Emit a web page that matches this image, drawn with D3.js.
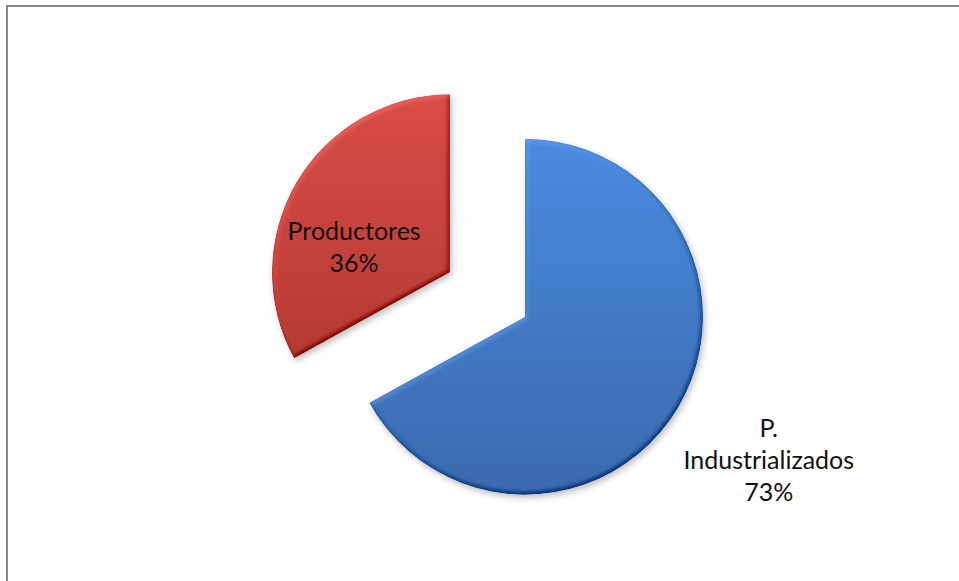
<!DOCTYPE html>
<html>
<head>
<meta charset="utf-8">
<script src="https://cdn.jsdelivr.net/npm/d3@7"></script>
<style>
    html, body { margin: 0; padding: 0; background: #fff; overflow: hidden; }
    text { font-family: Lato, "Open Sans", sans-serif; }
</style>
</head>
<body>
<div id="chart"></div>
<script>
// pie data
const categories = ['P. Industrializados', 'Productores'];
const values = [73, 36];
const labelLines = [['P.', 'Industrializados', '73%'], ['Productores', '36%']];

const WIDTH = 959;
const HEIGHT = 581;

const svg = d3.select('#chart')
    .append('svg')
    .attr('width', WIDTH)
    .attr('height', HEIGHT);

const defs = svg.append('defs');

// vertical fill gradients
const grads = [
    { id: 'g-blue', top: '#4a8ade', bottom: '#3a6aae' },
    { id: 'g-red', top: '#d94d48', bottom: '#b53933' }
];
grads.forEach(g => {
    const lg = defs.append('linearGradient')
        .attr('id', g.id)
        .attr('x1', 0).attr('y1', 0)
        .attr('x2', 0).attr('y2', 1);
    lg.append('stop').attr('offset', '0%').attr('stop-color', g.top);
    lg.append('stop').attr('offset', '100%').attr('stop-color', g.bottom);
});

// bevel + soft shadow
const elev = 55;
const f = defs.append('filter')
    .attr('id', 'bevel')
    .attr('x', '-10%').attr('y', '-10%')
    .attr('width', '120%').attr('height', '120%')
    .attr('color-interpolation-filters', 'sRGB');
f.append('feGaussianBlur').attr('in', 'SourceAlpha').attr('stdDeviation', 2.5).attr('result', 'ablur');
f.append('feDiffuseLighting')
    .attr('in', 'ablur')
    .attr('surfaceScale', 3)
    .attr('diffuseConstant', 1)
    .attr('lighting-color', '#ffffff')
    .attr('result', 'diff')
    .append('feDistantLight').attr('azimuth', 235).attr('elevation', elev);
f.append('feComposite')
    .attr('in', 'SourceGraphic').attr('in2', 'diff')
    .attr('operator', 'arithmetic')
    .attr('k1', 0).attr('k2', 1).attr('k3', 0.35).attr('k4', -0.35 * Math.sin(elev * Math.PI / 180))
    .attr('result', 'lit');
f.append('feComposite').attr('in', 'lit').attr('in2', 'SourceAlpha').attr('operator', 'in').attr('result', 'litIn');
f.append('feGaussianBlur').attr('in', 'SourceAlpha').attr('stdDeviation', 3).attr('result', 'sblur');
f.append('feOffset').attr('in', 'sblur').attr('dx', 2).attr('dy', 3).attr('result', 'soff');
f.append('feFlood').attr('flood-color', '#000').attr('flood-opacity', 0.25);
f.append('feComposite').attr('in2', 'soff').attr('operator', 'in').attr('result', 'shadow');
const merge = f.append('feMerge');
merge.append('feMergeNode').attr('in', 'shadow');
merge.append('feMergeNode').attr('in', 'litIn');

// chart border (runs off the right / bottom edges)
svg.append('rect')
    .attr('x', 7).attr('y', 6)
    .attr('width', 1000).attr('height', 1000)
    .attr('fill', 'none')
    .attr('stroke', '#878787')
    .attr('stroke-width', 2);

const cx = 487.5;
const cy = 294.5;
const radius = 178;
const explode = 0.245;

const fills = ['url(#g-blue)', 'url(#g-red)'];
// label placement: fraction of radius, angle nudge (radians)
const labelRadius = [1.59, 0.556];
const labelNudge = [0, -0.28];
const lineHeight = 32;

const pie = d3.pie().sort(null).value(d => d);
const arcs = pie(values);
const arc = d3.arc().innerRadius(0).outerRadius(radius);

const g = svg.append('g').attr('transform', `translate(${cx},${cy})`);

const slices = g.selectAll('.slice')
    .data(arcs)
    .enter()
    .append('g')
    .classed('slice', true)
    .attr('transform', d => {
        const a = (d.startAngle + d.endAngle) / 2;
        const off = explode * radius;
        return `translate(${Math.sin(a) * off},${-Math.cos(a) * off})`;
    });

slices.append('path')
    .attr('d', arc)
    .attr('fill', (d, i) => fills[i])
    .attr('filter', 'url(#bevel)');

slices.append('text')
    .attr('text-anchor', 'middle')
    .attr('font-size', 25)
    .attr('fill', '#111')
    .each(function (d, i) {
        const a = (d.startAngle + d.endAngle) / 2 + labelNudge[i];
        const r = labelRadius[i] * radius;
        const x = Math.sin(a) * r;
        const y = -Math.cos(a) * r;
        const lines = labelLines[i];
        const first = y - (lines.length - 1) * lineHeight / 2 + 8.4;
        d3.select(this).selectAll('tspan')
            .data(lines)
            .enter()
            .append('tspan')
            .attr('x', x)
            .attr('y', (t, j) => first + j * lineHeight)
            .text(t => t);
    });
</script>
</body>
</html>
